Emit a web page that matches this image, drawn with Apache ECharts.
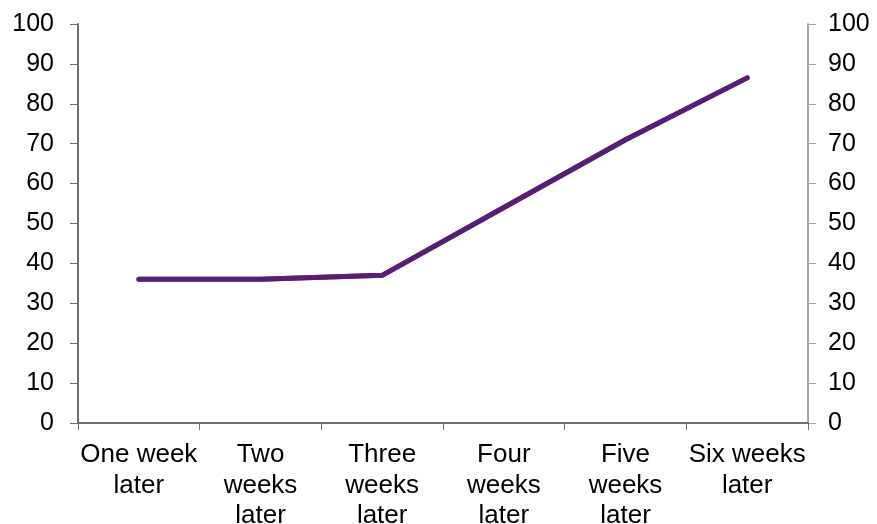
<!DOCTYPE html>
<html>
<head>
<meta charset="utf-8">
<script src="https://cdn.jsdelivr.net/npm/echarts@6/dist/echarts.min.js"></script>
<style>
  html, body { margin: 0; padding: 0; background: #ffffff; }
  #chart { width: 877px; height: 524px; }
</style>
</head>
<body>
<div id="chart"></div>
<script>
// Time since event
const categories = ['One week later', 'Two weeks later', 'Three weeks later', 'Four weeks later', 'Five weeks later', 'Six weeks later'];
const categoryLabels = ['One week\nlater', 'Two\nweeks\nlater', 'Three\nweeks\nlater', 'Four\nweeks\nlater', 'Five\nweeks\nlater', 'Six weeks\nlater'];
// Two series that nearly coincide; the purple one is drawn on top
const seriesBack = [36, 36, 37, 54, 71, 86.5];
const seriesFront = [36, 36, 37, 54, 71, 86.5];
const valueTicks = { min: 0, max: 100, interval: 10 };

const chart = echarts.init(document.getElementById('chart'), null, { renderer: 'canvas' });

const labelFont = { fontFamily: 'Liberation Sans, Arial, sans-serif', color: '#000000' };

chart.setOption({
  animation: false,
  backgroundColor: '#ffffff',
  grid: { left: 78, right: 69, top: 24, bottom: 101, containLabel: false, outerBoundsMode: 'none' },
  xAxis: {
    type: 'category',
    data: categories,
    boundaryGap: true,
    axisLine: { show: true, lineStyle: { color: '#707070', width: 2 } },
    axisTick: { show: true, alignWithLabel: false, length: 7, lineStyle: { color: '#707070', width: 1 } },
    axisLabel: {
      interval: 0,
      margin: 17,
      fontSize: 26,
      lineHeight: 30.5,
      ...labelFont,
      formatter: (v, i) => categoryLabels[i]
    },
    splitLine: { show: false }
  },
  yAxis: [
    {
      type: 'value',
      position: 'left',
      min: valueTicks.min, max: valueTicks.max, interval: valueTicks.interval,
      axisLine: { show: true, lineStyle: { color: '#707070', width: 2 } },
      axisTick: { show: true, length: 8, lineStyle: { color: '#707070', width: 1 } },
      axisLabel: { margin: 24, fontSize: 25, ...labelFont },
      splitLine: { show: false }
    },
    {
      type: 'value',
      position: 'right',
      min: valueTicks.min, max: valueTicks.max, interval: valueTicks.interval,
      axisLine: { show: true, lineStyle: { color: '#a6a6a6', width: 2 } },
      axisTick: { show: true, length: 8, lineStyle: { color: '#a6a6a6', width: 1 } },
      axisLabel: { margin: 20, fontSize: 25, ...labelFont },
      splitLine: { show: false }
    }
  ],
  series: [
    {
      type: 'line',
      data: seriesBack,
      yAxisIndex: 0,
      showSymbol: false,
      symbol: 'none',
      lineStyle: { color: '#8a3a4e', width: 5, cap: 'round', join: 'round' },
      z: 2
    },
    {
      type: 'line',
      data: seriesFront,
      yAxisIndex: 0,
      showSymbol: false,
      symbol: 'none',
      lineStyle: { color: '#571d79', width: 5, cap: 'round', join: 'round' },
      z: 3
    }
  ]
});
</script>
</body>
</html>
